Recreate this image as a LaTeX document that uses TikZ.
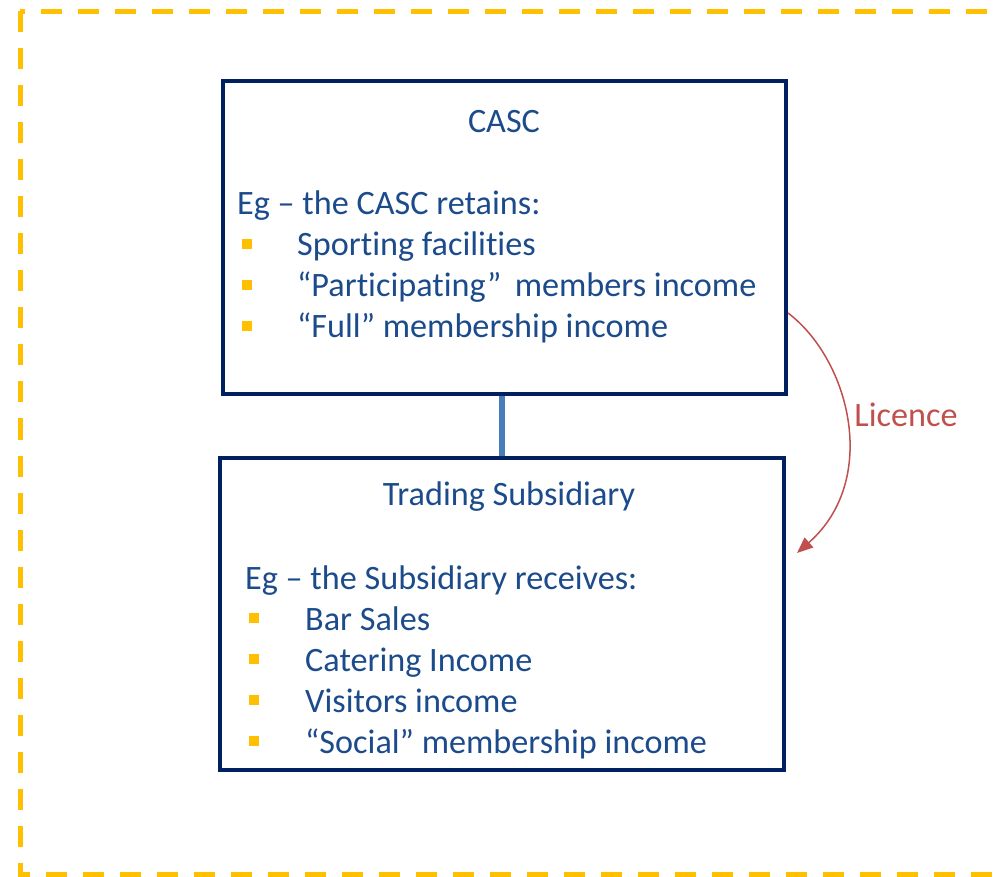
\documentclass[tikz,border=0pt]{standalone}
\usepackage{fontspec}
\setmainfont[Ligatures={NoCommon,NoContextual},RawFeature={-liga;-clig;-rlig;-calt}]{Carlito}
\usetikzlibrary{arrows.meta}

\definecolor{navy}{RGB}{0,32,96}
\definecolor{txtblue}{RGB}{28,75,140}
\definecolor{amber}{RGB}{255,192,0}
\definecolor{linkblue}{RGB}{74,126,187}
\definecolor{licred}{RGB}{192,80,77}

\begin{document}
\begin{tikzpicture}[x=1pt,y=-1pt]
\tikzstyle{box} = [draw=navy, line width=4pt, inner sep=0pt]
\tikzstyle{txt} = [text=txtblue, inner sep=0pt, font=\fontsize{34.2}{41}\selectfont]
\tikzstyle{item} = [txt, anchor=base west]
\tikzstyle{bullet} = [fill=amber, inner sep=0pt, minimum size=10pt]
\tikzstyle{link} = [draw=linkblue, line width=6pt]
\tikzstyle{licence} = [draw=licred, line width=1.5pt, -{Triangle[length=16pt,width=13pt]}]

\useasboundingbox (0,0) rectangle (994,877);

% outer dashed frame
\draw[amber, line width=5pt, dash pattern=on 21pt off 16pt] (20,11.5) rectangle (1010,874);

% the two boxes
\node[box, minimum width=563pt, minimum height=313pt] (casc) at (504.5,237.5) {};
\node[box, minimum width=564pt, minimum height=312pt] (sub) at (502,614) {};

\draw[link] (sub.north |- casc.south) -- (sub.north);

% CASC text
\node[txt, anchor=base] (casc-title) at (504,133) {CASC};
\node[item] (casc-eg) at (237,215) {Eg – the CASC retains:};
\node[bullet] (cb1) at (247,244) {};
\node[item] (casc-i1) at (297,256) {Sporting facilities};
\node[bullet] (cb2) at (247,285) {};
\node[item] (casc-i2) at (297,297) {“Participating”\, members income};
\node[bullet] (cb3) at (247,326) {};
\node[item] (casc-i3) at (297,338) {“Full” membership income};

% subsidiary text
\node[txt, anchor=base] (sub-title) at (509,505) {Trading Subsidiary};
\node[item] (sub-eg) at (245,589) {Eg – the Subsidiary receives:};
\node[bullet] (sb1) at (254,618) {};
\node[item] (sub-i1) at (305,630) {Bar Sales};
\node[bullet] (sb2) at (254,659) {};
\node[item] (sub-i2) at (305,671) {Catering Income};
\node[bullet] (sb3) at (254,700) {};
\node[item] (sub-i3) at (305,712) {Visitors income};
\node[bullet] (sb4) at (254,741) {};
\node[item] (sub-i4) at (305,753) {“Social” membership income};

% licence arrow
\coordinate (lic-from) at (788,313);
\coordinate (lic-to) at (797,553);
\draw[licence] (lic-from) .. controls (850,360) and (880,480) .. (lic-to);
\node[txt, text=licred] (lic) at (906,415) {Licence};
\end{tikzpicture}
\end{document}
